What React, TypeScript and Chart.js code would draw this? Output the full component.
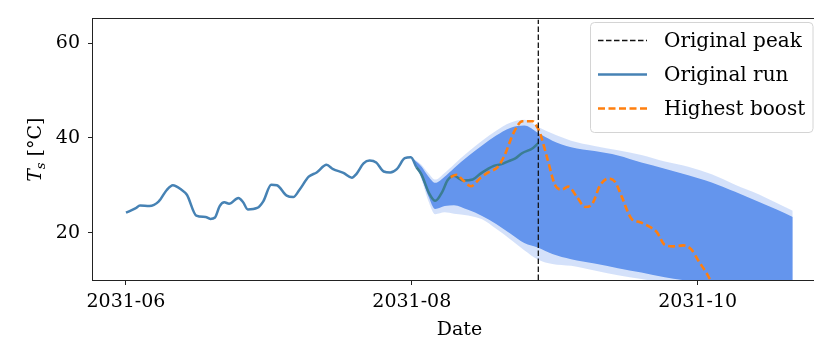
import React, { useEffect, useRef } from 'react';
import { Chart, registerables } from 'chart.js';

Chart.register(...registerables);

// x values are days since 2031-06-01
const tickDays = [0, 61, 122];
const tickLabels = ['2031-06', '2031-08', '2031-10'];
const yTicks = [20, 40, 60];
const legendLabels = ['Original peak', 'Original run', 'Highest boost'];

const peakDay = 88; // 2031-08-28

const runDays = [0, 2, 3, 5, 7, 8.7, 10, 11.9, 13, 15, 17, 18, 19, 20, 21, 22, 24, 25, 26, 28, 29.3, 31, 32.2, 34.3, 35.7, 37, 39, 40.7, 42.8, 44.2, 46.4, 48.2, 49.2, 50.7, 52, 53.4, 55, 56.4, 57.8, 59.5, 60.8, 62, 63, 64.7, 66, 67.5, 68.6, 70, 72, 74, 75.6, 77, 78.5, 80, 81.7, 83, 84.6, 86.8, 88];
const runTemps = [24.2, 25.1, 25.7, 25.6, 26.6, 29.0, 30.0, 29.0, 28.0, 23.6, 23.3, 22.9, 23.2, 25.6, 26.4, 26.1, 27.3, 26.4, 24.9, 25.2, 26.6, 30.1, 30.0, 27.8, 27.5, 29.0, 31.8, 32.7, 34.3, 33.4, 32.6, 31.6, 32.4, 34.6, 35.2, 34.8, 32.9, 32.7, 33.4, 35.7, 35.9, 33.8, 32.4, 28.3, 26.7, 28.6, 31.0, 32.0, 31.0, 31.2, 32.4, 33.3, 34.1, 34.4, 35.1, 35.6, 36.8, 37.8, 38.9];

const boostDays = [69.3, 70.5, 72, 73.6, 75.7, 77.5, 79.3, 80.7, 82.8, 84.6, 86.8, 87.8, 88.4, 89.8, 91.6, 93, 94.4, 96.2, 98, 99.4, 101.2, 102.9, 104.4, 105.8, 107.9, 109.7, 111.8, 113.3, 115, 116.8, 119, 120.7, 122.2, 124, 124.8];
const boostTemps = [31.7, 32.2, 31.0, 29.8, 31.6, 32.8, 33.8, 36.1, 41.2, 43.5, 43.5, 42.2, 40.9, 36.1, 30.0, 29.1, 29.7, 27.6, 25.4, 25.9, 30.0, 31.4, 30.7, 27.6, 22.9, 22.2, 21.2, 20.1, 17.4, 17.1, 17.3, 16.4, 14.0, 11.3, 9.8];

// ensemble envelope (many perturbed runs)
const envDays = [61, 63, 64.5, 66, 68, 70, 73, 76, 79, 82, 85, 88, 91, 95, 100, 105, 110, 115, 120, 125, 130, 135, 139, 142.3];
const envOuterHigh = [35.8, 34.4, 32.6, 31.2, 32.6, 34.4, 37.0, 39.4, 41.5, 43.2, 43.8, 42.3, 40.9, 39.4, 38.3, 37.4, 36.4, 35.0, 33.9, 32.3, 30.1, 28.1, 26.2, 24.6];
const envCoreHigh = [35.8, 34.0, 31.9, 30.5, 31.8, 33.6, 36.1, 38.4, 40.5, 42.1, 42.6, 41.0, 39.4, 38.0, 37.2, 36.3, 34.8, 33.5, 32.1, 30.6, 28.6, 26.5, 24.8, 23.3];
const envCoreLow = [35.8, 31.8, 27.8, 25.0, 25.6, 25.8, 24.8, 23.5, 21.8, 19.8, 17.8, 16.8, 15.5, 14.4, 13.5, 12.5, 11.6, 10.6, 9.8, 9.0, 8.2, 7.4, 6.8, 6.2];
const envOuterLow = [35.8, 31.4, 26.8, 23.9, 24.3, 24.0, 23.6, 22.8, 20.8, 18.6, 16.3, 14.3, 13.4, 13.0, 12.0, 11.0, 10.2, 9.4, 8.6, 7.8, 7.0, 6.2, 5.6, 5.0];

const FONT = '"DejaVu Serif", serif';
const STEEL = '#4682b4';
const TEAL = '#3b7d93';
const ORANGE = '#ff7f0e';
const CORN = '#6495ed';

const pts = (xs: number[], ys: number[]) => xs.map((x, i) => ({ x, y: ys[i] }));

const decor = {
  id: 'decor',
  afterDraw(chart: any) {
    const { ctx, chartArea: a } = chart;
    ctx.save();
    // frame
    ctx.strokeStyle = '#222';
    ctx.lineWidth = 1;
    ctx.setLineDash([]);
    ctx.strokeRect(Math.round(a.left) - 0.5, Math.round(a.top) - 0.5, Math.round(a.right - a.left) + 1, Math.round(a.bottom - a.top) + 1);

    // y-axis title: T_s [°C]
    ctx.save();
    ctx.translate(41, (a.top + a.bottom) / 2);
    ctx.rotate(-Math.PI / 2);
    ctx.fillStyle = '#000';
    ctx.textBaseline = 'alphabetic';
    ctx.textAlign = 'left';
    const f1 = `italic 19px ${FONT}`;
    const f2 = `italic 13px ${FONT}`;
    const f3 = `19px ${FONT}`;
    ctx.font = f1; const w1 = ctx.measureText('T').width;
    ctx.font = f2; const w2 = ctx.measureText('s').width;
    ctx.font = f3; const w3 = ctx.measureText(' [°C]').width;
    let x0 = -(w1 + w2 + w3) / 2;
    ctx.font = f1; ctx.fillText('T', x0, 0); x0 += w1;
    ctx.font = f2; ctx.fillText('s', x0, 4); x0 += w2;
    ctx.font = f3; ctx.fillText(' [°C]', x0, 0);
    ctx.restore();

    // legend
    const bx = 590.5, by = 22.5, bw = 222.5, bh = 110, r = 4;
    ctx.beginPath();
    ctx.moveTo(bx + r, by);
    ctx.lineTo(bx + bw - r, by);
    ctx.arcTo(bx + bw, by, bx + bw, by + r, r);
    ctx.lineTo(bx + bw, by + bh - r);
    ctx.arcTo(bx + bw, by + bh, bx + bw - r, by + bh, r);
    ctx.lineTo(bx + r, by + bh);
    ctx.arcTo(bx, by + bh, bx, by + bh - r, r);
    ctx.lineTo(bx, by + r);
    ctx.arcTo(bx, by, bx + r, by, r);
    ctx.closePath();
    ctx.fillStyle = 'rgba(255,255,255,0.85)';
    ctx.fill();
    ctx.strokeStyle = '#d4d4d4';
    ctx.lineWidth = 1;
    ctx.stroke();

    const rows = [
      { color: '#111', dash: [5.5, 2.5], width: 1.3, y: 40.5 },
      { color: STEEL, dash: [], width: 2.5, y: 74.5 },
      { color: ORANGE, dash: [7, 3.5], width: 2.5, y: 108.5 },
    ];
    rows.forEach((row, i) => {
      ctx.beginPath();
      ctx.setLineDash(row.dash);
      ctx.strokeStyle = row.color;
      ctx.lineWidth = row.width;
      ctx.moveTo(598, row.y);
      ctx.lineTo(647, row.y);
      ctx.stroke();
      ctx.setLineDash([]);
      ctx.fillStyle = '#000';
      ctx.font = `20px ${FONT}`;
      ctx.textBaseline = 'middle';
      ctx.textAlign = 'left';
      ctx.fillText(legendLabels[i], 664, row.y + 1);
    });
    ctx.restore();
  },
};

export default function App() {
  const ref = useRef<HTMLCanvasElement>(null);

  useEffect(() => {
    const canvas = ref.current!;
    const font = { family: FONT, size: 19 };
    const chart = new Chart(canvas, {
      type: 'line',
      data: {
        datasets: [
          {
            label: legendLabels[0],
            data: [{ x: peakDay, y: 10 }, { x: peakDay, y: 65 }],
            borderColor: '#111',
            borderWidth: 1.3,
            borderDash: [5.5, 2.5],
            pointRadius: 0,
            fill: false,
            order: 0,
            clip: 0,
          },
          {
            label: legendLabels[2],
            data: pts(boostDays, boostTemps),
            borderColor: ORANGE,
            borderWidth: 2.6,
            borderDash: [7, 3.5],
            pointRadius: 0,
            fill: false,
            cubicInterpolationMode: 'monotone',
            order: 1,
            clip: 0,
          },
          {
            label: legendLabels[1],
            data: pts(runDays, runTemps),
            borderColor: STEEL,
            borderWidth: 2.5,
            pointRadius: 0,
            fill: false,
            cubicInterpolationMode: 'monotone',
            segment: {
              borderColor: (c: any) => (c.p0.parsed.x >= 62 ? TEAL : STEEL),
            },
            order: 2,
            clip: 0,
          },
          {
            label: 'coreLow',
            data: pts(envDays, envCoreLow),
            borderColor: 'rgba(0,0,0,0)',
            borderWidth: 0,
            pointRadius: 0,
            fill: false,
            cubicInterpolationMode: 'monotone',
            order: 3,
            clip: 0,
          },
          {
            label: 'coreHigh',
            data: pts(envDays, envCoreHigh),
            borderColor: 'rgba(0,0,0,0)',
            backgroundColor: CORN,
            borderWidth: 0,
            pointRadius: 0,
            fill: 3,
            cubicInterpolationMode: 'monotone',
            order: 4,
            clip: 0,
          },
          {
            label: 'outerLow',
            data: pts(envDays, envOuterLow),
            borderColor: 'rgba(0,0,0,0)',
            borderWidth: 0,
            pointRadius: 0,
            fill: false,
            cubicInterpolationMode: 'monotone',
            order: 5,
            clip: 0,
          },
          {
            label: 'outerHigh',
            data: pts(envDays, envOuterHigh),
            borderColor: 'rgba(0,0,0,0)',
            backgroundColor: 'rgba(100,149,237,0.28)',
            borderWidth: 0,
            pointRadius: 0,
            fill: 5,
            cubicInterpolationMode: 'monotone',
            order: 6,
            clip: 0,
          },
        ] as any,
      },
      options: {
        animation: false,
        responsive: false,
        devicePixelRatio: 1,
        layout: { padding: { top: 10, right: 24, left: 0, bottom: 0 } },
        plugins: {
          legend: { display: false },
          tooltip: { enabled: false },
        },
        scales: {
          x: {
            type: 'linear',
            min: -7.04,
            max: 149.4,
            afterBuildTicks: (s: any) => {
              s.ticks = tickDays.map((v) => ({ value: v }));
            },
            afterFit: (s: any) => {
              s.height = 62;
            },
            ticks: {
              font,
              color: '#000',
              padding: 6,
              maxRotation: 0,
              autoSkip: false,
              callback: (v: any) => tickLabels[tickDays.indexOf(Number(v))] ?? '',
            },
            grid: { drawOnChartArea: false, drawTicks: true, tickLength: 5, tickColor: '#222', tickWidth: 1 },
            border: { display: false },
            title: { display: true, text: 'Date', font, color: '#000', padding: { top: 0, bottom: 1 } },
          },
          y: {
            type: 'linear',
            min: 10,
            max: 65,
            afterBuildTicks: (s: any) => {
              s.ticks = yTicks.map((v) => ({ value: v }));
            },
            afterFit: (s: any) => {
              s.width = 93;
            },
            ticks: { font, color: '#000', padding: 8 },
            grid: { drawOnChartArea: false, drawTicks: true, tickLength: 5, tickColor: '#222', tickWidth: 1 },
            border: { display: false },
          },
        },
      } as any,
      plugins: [decor],
    });
    return () => chart.destroy();
  }, []);

  return (
    <div style={{ position: 'fixed', left: 0, top: 0, width: 814, height: 342, overflow: 'hidden', background: '#fff' }}>
      <canvas ref={ref} width={850} height={342} style={{ display: 'block', width: 850, height: 342 }} />
    </div>
  );
}
